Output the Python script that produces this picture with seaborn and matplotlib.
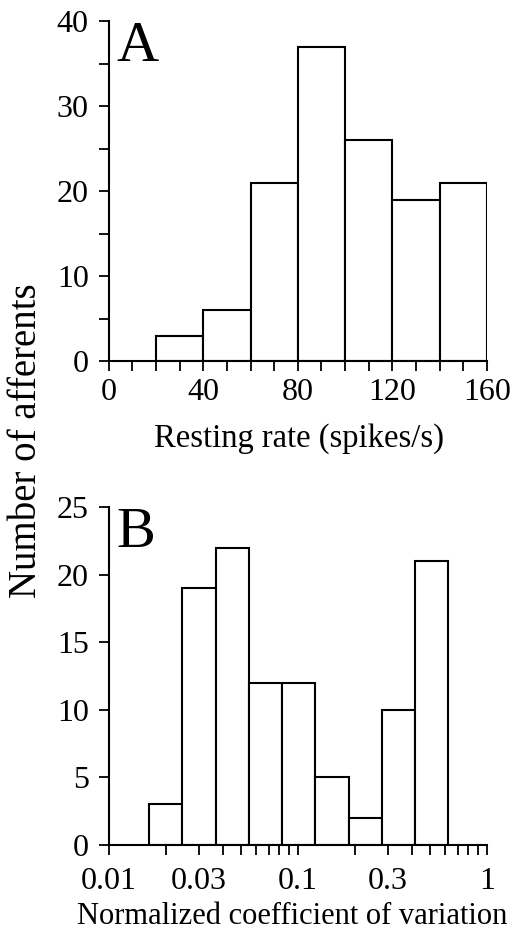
import numpy as np
import seaborn as sns
import matplotlib
matplotlib.use("Agg")
import matplotlib.pyplot as plt
from matplotlib.ticker import FixedLocator, FixedFormatter

# panel A: resting rate histogram
rate_edges = [20, 40, 60, 80, 100, 120, 140, 160]
rate_counts = [3, 6, 21, 37, 26, 19, 21]

# panel B: normalized CV histogram (log bins)
cv_edges = [0.0163, 0.0245, 0.0367, 0.055, 0.0826, 0.124, 0.186, 0.279, 0.418, 0.627]
cv_counts = [3, 19, 22, 12, 12, 5, 2, 10, 21]

cv_ticks = [0.01, 0.02, 0.03, 0.04, 0.05, 0.06, 0.07, 0.08, 0.09,
            0.1, 0.2, 0.3, 0.4, 0.5, 0.6, 0.7, 0.8, 0.9, 1]
cv_labels = ["0.01", "", "0.03", "", "", "", "", "", "",
             "0.1", "", "0.3", "", "", "", "", "", "", "1"]

sns.set_style("ticks")
plt.rcParams['font.family'] = ['Liberation Serif', 'DejaVu Serif']
plt.rcParams['text.color'] = 'black'
plt.rcParams['axes.edgecolor'] = 'black'
plt.rcParams['xtick.color'] = 'black'
plt.rcParams['ytick.color'] = 'black'

fig = plt.figure(figsize=(5.28, 9.39), dpi=100)
axA = fig.add_axes([0.206, 0.6155, 0.716, 0.362])
axB = fig.add_axes([0.206, 0.1001, 0.716, 0.360])

rate_mid = [(a + b) / 2 for a, b in zip(rate_edges[:-1], rate_edges[1:])]
sns.histplot(x=rate_mid, weights=rate_counts, bins=rate_edges, ax=axA,
             color="white", edgecolor="black", linewidth=1.5, alpha=1)

cv_mid = list(np.sqrt(np.array(cv_edges[:-1]) * np.array(cv_edges[1:])))
cv_log_edges = [float(v) for v in np.log10(cv_edges)]
sns.histplot(x=cv_mid, weights=cv_counts, bins=cv_log_edges, log_scale=True,
             ax=axB, color="white", edgecolor="black", linewidth=1.5, alpha=1)

for ax in (axA, axB):
    sns.despine(ax=ax)
    ax.spines['left'].set_linewidth(1.5)
    ax.spines['bottom'].set_linewidth(1.5)
    ax.set_xlabel("")
    ax.set_ylabel("")
    ax.tick_params(which='both', direction='out', width=1.3, length=7.5,
                   labelsize=23, labelcolor='black')
    ax.tick_params(axis='y', which='both', pad=7)

axA.tick_params(axis='x', which='both', pad=5)
axB.tick_params(axis='x', which='both', pad=8.5)

axA.set_xlim(0, 160)
axA.set_ylim(0, 40)
axA.set_xticks([0, 40, 80, 120, 160])
axA.set_xticks(range(0, 161, 10), minor=True)
axA.set_yticks([0, 10, 20, 30, 40])
axA.set_yticks(range(0, 41, 5), minor=True)

axB.set_xscale('log')
axB.set_xlim(0.01, 1)
axB.set_ylim(0, 25)
axB.xaxis.set_major_locator(FixedLocator(cv_ticks))
axB.xaxis.set_major_formatter(FixedFormatter(cv_labels))
axB.xaxis.set_minor_locator(FixedLocator([]))
axB.set_yticks([0, 5, 10, 15, 20, 25])

axA.text(0.02, 1.0, "A", transform=axA.transAxes, fontsize=42, va='top', ha='left')
axB.text(0.02, 1.0, "B", transform=axB.transAxes, fontsize=42, va='top', ha='left')

fig.text(0.566, 0.533, "Resting rate (spikes/s)", fontsize=23.5, ha='center', va='center')
fig.text(0.553, 0.024, "Normalized coefficient of variation", fontsize=22, ha='center', va='center')
fig.text(0.051, 0.531, "Number of afferents", fontsize=28, rotation=90, ha='center', va='center')

fig.savefig("out.png", dpi=100)
